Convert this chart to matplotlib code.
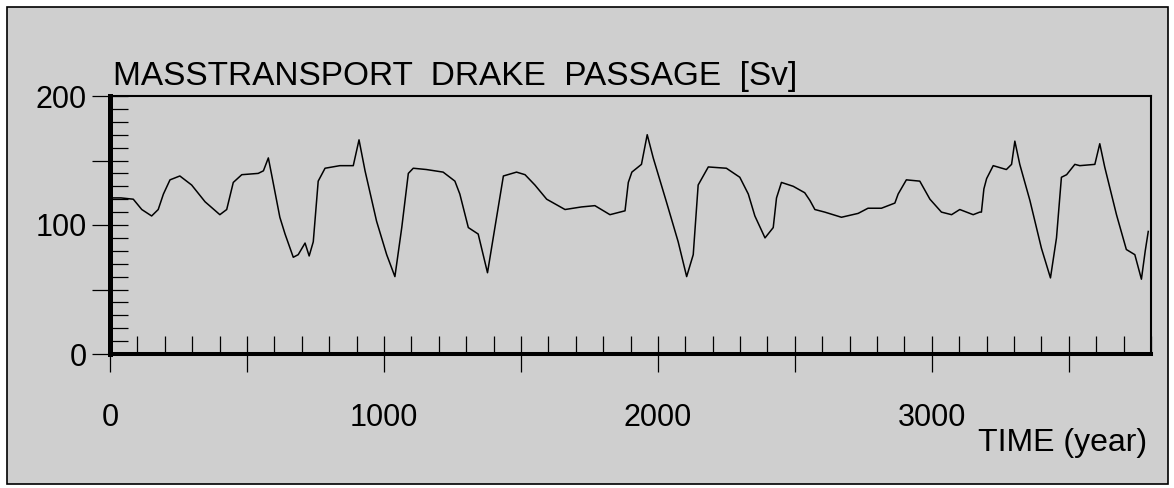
import matplotlib
matplotlib.use("Agg")
import matplotlib.pyplot as plt
from matplotlib.ticker import MultipleLocator, FuncFormatter
from matplotlib.patches import Rectangle

# ---- data ----
years = [0, 40, 85, 116, 152, 176, 195, 219, 255, 298, 347, 401, 426, 450, 481,
         541, 560, 578, 590, 620, 639, 669, 687, 712, 727, 742, 760, 785, 839,
         888, 909, 931, 973, 1010, 1040, 1065, 1089, 1107, 1155, 1216, 1253,
         1259, 1277, 1308, 1344, 1378, 1405, 1436, 1484, 1515, 1551, 1594, 1661,
         1721, 1770, 1825, 1880, 1892, 1905, 1940, 1961, 1983, 2031, 2074, 2105,
         2129, 2147, 2184, 2250, 2299, 2330, 2354, 2391, 2421, 2433, 2451, 2494,
         2536, 2555, 2573, 2609, 2670, 2731, 2767, 2816, 2865, 2877, 2907, 2956,
         2993, 3035, 3072, 3102, 3151, 3175, 3181, 3190, 3200, 3224, 3272, 3291,
         3303, 3321, 3358, 3400, 3433, 3455, 3473, 3492, 3522, 3540, 3595, 3613,
         3631, 3674, 3710, 3741, 3765, 3779, 3790]
transport = [121, 121, 120, 112, 107, 112, 124, 135, 138, 131, 118, 108, 112, 133, 139,
             140, 142, 152, 139, 106, 93, 75, 77, 86, 76, 87, 134, 144, 146,
             146, 166, 142, 103, 77, 60, 98, 140, 144, 143, 141, 135,
             134, 124, 98, 93, 63, 98, 138, 141, 139, 131, 120, 112,
             114, 115, 108, 111, 133, 141, 147, 170, 152, 118, 87, 60,
             77, 131, 145, 144, 137, 124, 107, 90, 98, 121, 133, 130,
             125, 119, 112, 110, 106, 109, 113, 113, 117, 124, 135, 134,
             120, 110, 108, 112, 108, 110, 110, 128, 136, 146, 143, 147,
             165, 147, 119, 82, 59, 90, 137, 139, 147, 146, 147, 163,
             145, 108, 81, 77, 58, 80, 95]

x_labels = {0: "0", 1000: "1000", 2000: "2000", 3000: "3000"}
y_labels = {0: "0", 100: "100", 200: "200"}
title = "MASSTRANSPORT  DRAKE  PASSAGE  [Sv]"
xlabel = "TIME (year)"

BG = "#cfcfcf"
plt.rcParams["font.family"] = ["Liberation Sans", "DejaVu Sans"]

W, H = 1174, 488
fig = plt.figure(figsize=(W / 100, H / 100), dpi=100, facecolor="white")

# outer frame of the figure
fig.patches.append(Rectangle((7 / W, 1 - 484 / H), (1168 - 7) / W, (484 - 7) / H,
                             transform=fig.transFigure, facecolor=BG,
                             edgecolor="black", linewidth=1.2, zorder=-5))

ax = fig.add_axes([110 / W, 1 - 354 / H, (1151 - 110) / W, (354 - 96) / H])
ax.set_facecolor("none")
ax.plot(years, transport, color="black", linewidth=1.1)

ax.set_xlim(0, 3800)
ax.set_ylim(0, 200)

ax.xaxis.set_major_locator(MultipleLocator(500))
ax.xaxis.set_minor_locator(MultipleLocator(100))
ax.yaxis.set_major_locator(MultipleLocator(50))
ax.yaxis.set_minor_locator(MultipleLocator(10))
ax.xaxis.set_major_formatter(FuncFormatter(lambda v, p: x_labels.get(int(round(v)), "")))
ax.yaxis.set_major_formatter(FuncFormatter(lambda v, p: y_labels.get(int(round(v)), "")))

ax.tick_params(axis="x", which="major", direction="inout", length=26, width=0.9,
               pad=22, labelsize=22)
ax.tick_params(axis="x", which="minor", direction="in", length=13, width=0.9)
ax.tick_params(axis="y", which="major", direction="inout", length=26, width=0.9,
               pad=4, labelsize=22)
ax.tick_params(axis="y", which="minor", direction="in", length=13, width=0.9)
ax.tick_params(top=False, right=False, which="both")

ax.spines["left"].set_linewidth(3.6)
ax.spines["bottom"].set_linewidth(2.9)
ax.spines["top"].set_linewidth(1.5)
ax.spines["right"].set_linewidth(1.5)

fig.text(113 / W, 1 - 85 / H, title, fontsize=24, ha="left", va="baseline")
fig.text(1147 / W, 1 - 443 / H, xlabel, fontsize=23, ha="right", va="center")

fig.savefig("out.png", dpi=100, facecolor="white")
